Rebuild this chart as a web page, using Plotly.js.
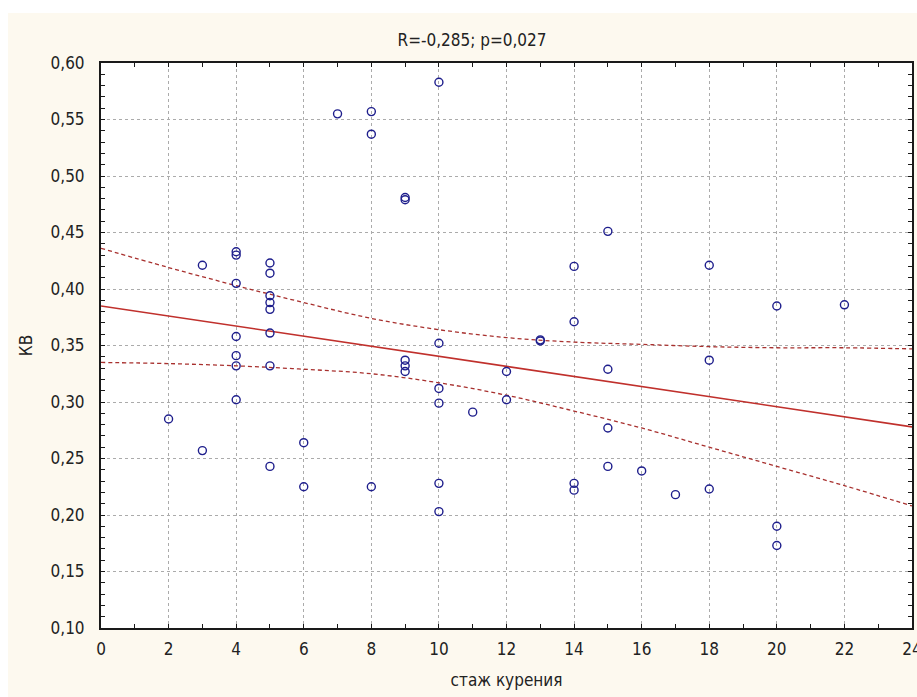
<!DOCTYPE html>
<html>
<head>
<meta charset="utf-8">
<script src="https://cdn.plot.ly/plotly-3.0.1.min.js"></script>
<style>
  html, body { margin: 0; padding: 0; background: #ffffff; width: 917px; height: 697px; overflow: hidden; }
  #chart { position: absolute; left: 8px; top: 13px; width: 909px; height: 684px; }
</style>
</head>
<body>
<div id="chart"></div>
<script>
// ---- data ----
const smokingYears = [2, 3, 3, 4, 4, 4, 4, 4, 4, 4, 5, 5, 5, 5, 5, 5, 5, 5, 6, 6, 7, 8, 8, 8,
  9, 9, 9, 9, 9, 10, 10, 10, 10, 10, 10, 11, 12, 12, 13, 13, 14, 14, 14, 14,
  15, 15, 15, 15, 16, 17, 18, 18, 18, 20, 20, 20, 22];
const kvValues = [0.285, 0.421, 0.257, 0.433, 0.430, 0.405, 0.358, 0.341, 0.332, 0.302,
  0.423, 0.414, 0.394, 0.388, 0.382, 0.361, 0.332, 0.243, 0.264, 0.225, 0.555,
  0.557, 0.537, 0.225, 0.481, 0.479, 0.337, 0.332, 0.327,
  0.583, 0.352, 0.312, 0.299, 0.228, 0.203, 0.291, 0.327, 0.302, 0.355, 0.354,
  0.420, 0.371, 0.228, 0.222, 0.451, 0.329, 0.277, 0.243, 0.239, 0.218,
  0.421, 0.337, 0.223, 0.385, 0.190, 0.173, 0.386];

// regression line (end points)
const fitX = [0, 24];
const fitY = [0.385, 0.278];

// 95% confidence band
const bandX = [0, 2, 4, 6, 8, 10, 12, 14, 16, 18, 20, 22, 24];
const bandUpper = [0.436, 0.419, 0.403, 0.388, 0.374, 0.364, 0.357, 0.353, 0.351, 0.349, 0.348, 0.348, 0.347];
const bandLower = [0.335, 0.334, 0.332, 0.329, 0.325, 0.317, 0.306, 0.292, 0.277, 0.260, 0.243, 0.226, 0.208];

const titleText = 'R=-0,285; p=0,027';
const xTitle = 'стаж курения';
const yTitle = 'КВ';

const FONT = '"Liberation Sans Narrow", "DejaVu Sans Condensed", "Liberation Sans", Arial, sans-serif';
const bandColor = '#a8302e';

const traces = [
  { x: bandX, y: bandUpper, mode: 'lines', type: 'scatter', hoverinfo: 'skip',
    line: { color: bandColor, width: 1.3, dash: '4px,3px', shape: 'spline' } },
  { x: bandX, y: bandLower, mode: 'lines', type: 'scatter', hoverinfo: 'skip',
    line: { color: bandColor, width: 1.3, dash: '4px,3px', shape: 'spline' } },
  { x: fitX, y: fitY, mode: 'lines', type: 'scatter',
    line: { color: '#c0302c', width: 1.6 } },
  { x: smokingYears, y: kvValues, mode: 'markers', type: 'scatter',
    marker: { symbol: 'circle-open', size: 8, color: '#1e1e8c', line: { width: 1.4, color: '#1e1e8c' } } }
];

const axisCommon = {
  showline: true, linecolor: '#1a1a1a', linewidth: 2, mirror: 'allticks',
  ticks: 'inside', ticklen: 4, tickwidth: 1, tickcolor: '#1a1a1a',
  showgrid: true, gridcolor: '#ababab', griddash: 'dot', gridwidth: 1,
  zeroline: false, fixedrange: true,
  tickfont: { family: FONT, size: 17, color: '#222' },
  title: { font: { family: FONT, size: 17, color: '#222' } }
};

const layout = {
  width: 909, height: 684,
  paper_bgcolor: '#fdf9ef', plot_bgcolor: '#ffffff',
  showlegend: false,
  separators: ', ',
  margin: { l: 93, r: 5, t: 50, b: 69, pad: 0 },
  font: { family: FONT, size: 17, color: '#222' },
  title: { text: titleText, x: 0.5105, xanchor: 'center', y: 0.9605, yanchor: 'middle',
           font: { family: FONT, size: 17, color: '#222' } },
  xaxis: Object.assign({}, axisCommon, {
    range: [0, 24], dtick: 2, tick0: 0,
    minor: { dtick: 1, ticks: 'inside', ticklen: 4, tickcolor: '#1a1a1a', showgrid: false },
    ticklabelstandoff: 5, ticklabeloverflow: 'allow',
    title: { text: xTitle, standoff: 16, font: { family: FONT, size: 17, color: '#222' } }
  }),
  yaxis: Object.assign({}, axisCommon, {
    range: [0.10, 0.60], dtick: 0.05, tick0: 0.10, tickformat: '.2f',
    minor: { dtick: 0.01, ticks: 'inside', ticklen: 4, tickcolor: '#1a1a1a', showgrid: false },
    ticklabelstandoff: 11,
    title: { text: yTitle, standoff: 14, font: { family: FONT, size: 17, color: '#222' } }
  })
};

Plotly.newPlot('chart', traces, layout, { displayModeBar: false, staticPlot: true });
</script>
</body>
</html>
